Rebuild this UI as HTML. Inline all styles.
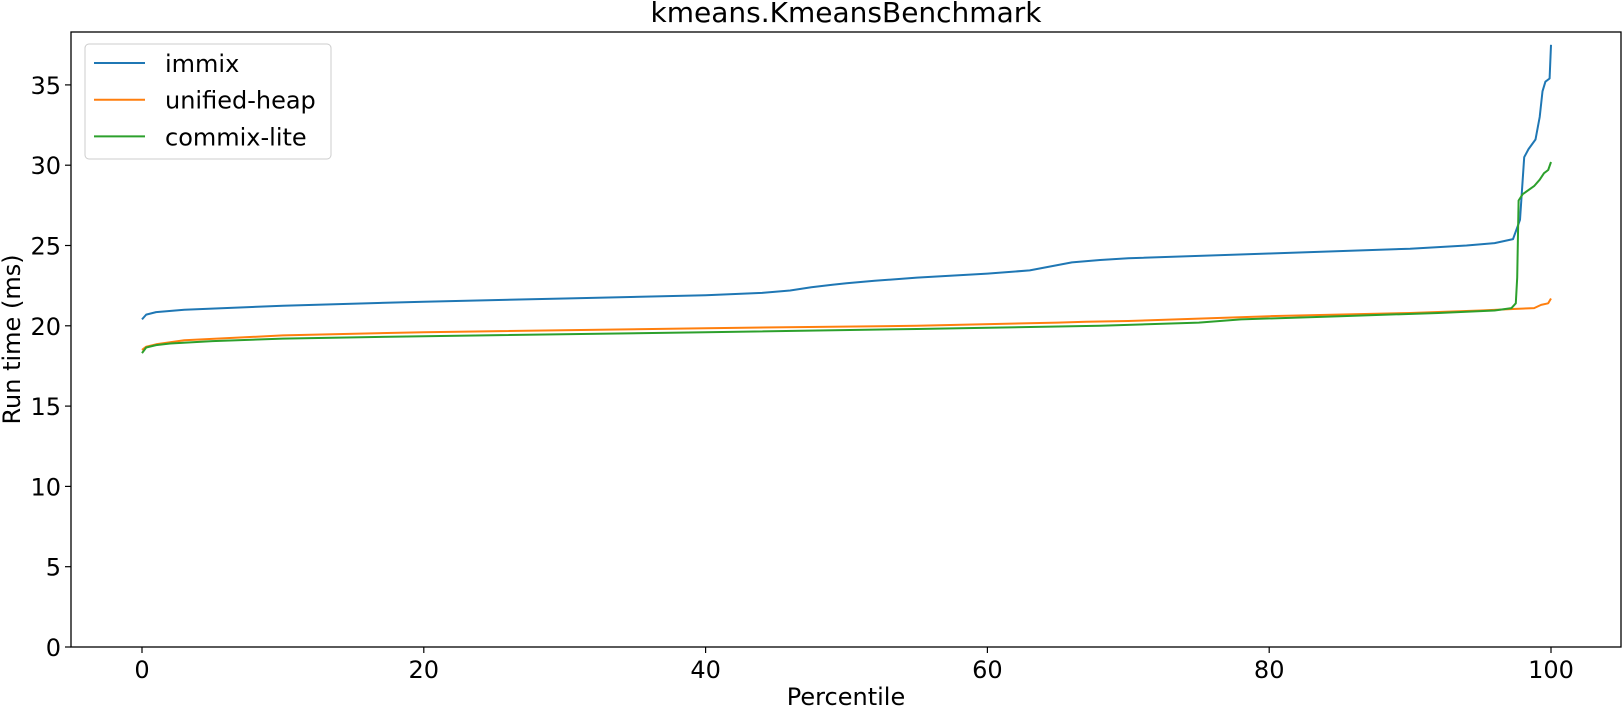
<!DOCTYPE html>
<html><head><meta charset="utf-8"><style>
body{margin:0;background:#fff;}
svg text{font-family:"DejaVu Sans","Liberation Sans",sans-serif;fill:#000;}
</style></head><body>
<svg id="chart" width="1624" height="710" xmlns="http://www.w3.org/2000/svg"></svg>
<script>
const xTicks=[0,20,40,60,80,100];
const yTicks=[0,5,10,15,20,25,30,35];
const immixX=[0,0.3,1,3,10,20,30,40,44,46,47.5,49,50,52,55,60,63,64.5,66,68,70,80,90,94,96,97.3,97.8,98.1,98.4,98.9,99.2,99.4,99.6,99.9,100];
const immixY=[20.4,20.7,20.85,21.0,21.25,21.5,21.7,21.9,22.05,22.2,22.4,22.55,22.65,22.8,23.0,23.25,23.45,23.7,23.95,24.1,24.2,24.5,24.8,25.0,25.15,25.4,26.6,30.5,31.0,31.6,33.0,34.6,35.2,35.4,37.5];
const heapX=[0,0.3,1,3,10,20,40,55,65,67,70,75,80,90,95,97.5,98.8,99.3,99.8,100];
const heapY=[18.5,18.7,18.85,19.1,19.4,19.6,19.85,20.0,20.2,20.25,20.3,20.45,20.6,20.8,20.95,21.05,21.1,21.3,21.4,21.7];
const commixX=[0,0.3,1,2,5,10,20,40,55,68,75,78,85,92,96,97.2,97.5,97.6,97.7,98,98.8,99.2,99.5,99.8,100];
const commixY=[18.3,18.65,18.8,18.9,19.05,19.2,19.35,19.6,19.8,20.0,20.2,20.4,20.6,20.8,20.95,21.1,21.4,23,27.8,28.2,28.7,29.1,29.5,29.7,30.2];
const L=71,R=1621,T=32,B=647;
const xs=v=>142+v*14.09;
const ys=v=>B-v*16.06;
const svg=document.getElementById('chart');
const NS='http://www.w3.org/2000/svg';
function mk(tag,attrs,txt){const e=document.createElementNS(NS,tag);for(const k in attrs)e.setAttribute(k,attrs[k]);if(txt!==undefined)e.textContent=txt;svg.appendChild(e);return e;}
const title=mk('text',{x:(L+R)/2,y:22,'text-anchor':'middle','font-size':'28'},'kmeans.KmeansBenchmark');


xTicks.forEach(t=>{
  const l=mk('line',{x1:xs(t),x2:xs(t),y1:B,y2:B+6,stroke:'#000','stroke-width':1.2});
  
  
  const tx=mk('text',{x:xs(t),y:B+31,'text-anchor':'middle','font-size':'24'},String(t));
  
  
});
yTicks.forEach(t=>{
  const l=mk('line',{x1:L-6,x2:L,y1:ys(t),y2:ys(t),stroke:'#000','stroke-width':1.2});
  
  
  const tx=mk('text',{x:L-10,y:ys(t)+9,'text-anchor':'end','font-size':'24'},String(t));
  
  
});
const xl=mk('text',{x:(L+R)/2,y:705,'text-anchor':'middle','font-size':'24'},'Percentile');


const yl=mk('text',{x:0,y:0,'text-anchor':'middle','font-size':'24',transform:`translate(20,${(T+B)/2}) rotate(-90)`},'Run time (ms)');


const series=[['immix',immixX,immixY,'#1f77b4'],['unified-heap',heapX,heapY,'#ff7f0e'],['commix-lite',commixX,commixY,'#2ca02c']];
series.forEach(([n,X,Y,c])=>{
  const p=mk('polyline',{points:X.map((x,i)=>xs(x).toFixed(1)+','+ys(Y[i]).toFixed(1)).join(' '),fill:'none',stroke:c,'stroke-width':2,'stroke-linejoin':'round'});
  
  
});
const frame=mk('rect',{x:L,y:T,width:R-L,height:B-T,fill:'none',stroke:'#000','stroke-width':1.3});


const lg=mk('rect',{x:85,y:44,width:246,height:115,rx:4,fill:'#fff','fill-opacity':0.8,stroke:'#ccc','stroke-width':1});


series.forEach(([n,X,Y,c],i)=>{
  const y=63+i*36.7;
  const l=mk('line',{x1:94,x2:145,y1:y,y2:y,stroke:c,'stroke-width':2});
  
  
  const t=mk('text',{x:165,y:y+9,'font-size':'24'},n);
  
  
});
</script>
</body></html>
